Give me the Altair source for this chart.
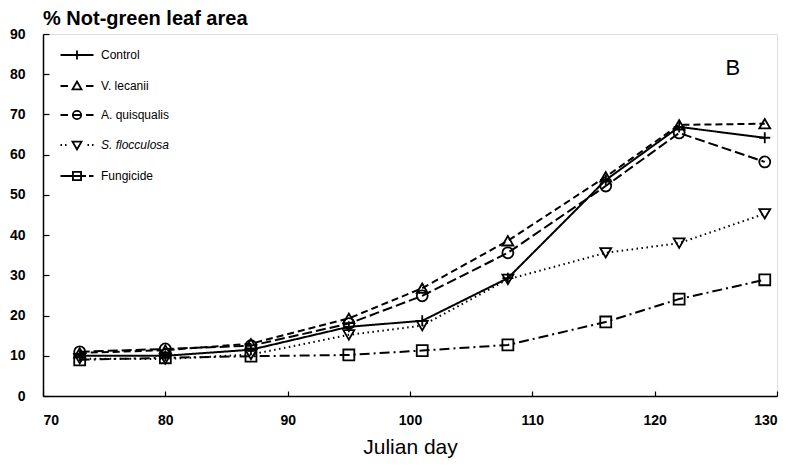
import altair as alt
import pandas as pd

days = [73, 80, 87, 95, 101, 108, 116, 122, 129]
series_names = ["Control", "V. lecanii", "A. quisqualis", "S. flocculosa", "Fungicide"]
control = [10, 10, 11.5, 17.2, 18.7, 29.3, 53.7, 66.9, 64.2]
lecanii = [10.7, 11.4, 13, 19.3, 26.8, 38.6, 54.5, 67.4, 67.7]
quisqualis = [11, 11.7, 12.5, 18, 24.9, 35.6, 52.2, 65.4, 58.2]
flocculosa = [9.3, 9.2, 10.3, 15.2, 17.5, 29, 35.6, 38, 45.3]
fungicide = [9, 9.5, 9.9, 10.2, 11.3, 12.7, 18.4, 24.1, 28.9]
x_ticks = [70, 80, 90, 100, 110, 120, 130]
y_ticks = [0, 10, 20, 30, 40, 50, 60, 70, 80, 90]
panel_label = ["B"]
panel_label_x = [126.4]
panel_label_y = [81.5]

values = [control, lecanii, quisqualis, flocculosa, fungicide]
rows = []
for name, vals in zip(series_names, values):
    for d, v in zip(days, vals):
        rows.append({"day": d, "value": v, "series": name})
df = pd.DataFrame(rows)
lab = pd.DataFrame({"x": panel_label_x, "y": panel_label_y, "t": panel_label})

FONT = "Liberation Sans"
xs = alt.Scale(domain=[70, 130], nice=False)
ys = alt.Scale(domain=[0, 90], nice=False)

dash_range = [[1, 0], [7, 4], [10, 4], [1.5, 3.5], [10, 4, 2, 4]]
width_range = [2, 2, 2, 1.6, 2]
marker_shapes = ["M-1,0H1M0,-1V1", "triangle-up", "circle", "triangle-down", "square"]
legend_shapes = [
    "M-1.1,0H1.1M0,-0.3V0.3",
    "M-1.1,0H-0.6M0.6,0H1.1M0,-0.3L0.3,0.22H-0.3Z",
    "M-1.1,0H-0.6M0.6,0H1.1M0.28,0A0.28,0.28 0 1,1 -0.28,0A0.28,0.28 0 1,1 0.28,0M-0.28,0H0.28",
    "M-1.1,0H-1.0M-0.8,0H-0.7M0.7,0H0.8M1.0,0H1.1M-0.3,-0.22H0.3L0,0.3Z",
    "M-1.1,0H-0.3M0.3,0H0.6M0.8,0H1.1M-0.27,-0.27H0.27V0.27H-0.27ZM-0.27,0H0.27",
]

main_x = alt.Axis(values=x_ticks, title="Julian day", titleFont=FONT, titleFontSize=21,
                  titleFontWeight="normal", titleColor="black", titlePadding=9,
                  labelFont=FONT, labelFontSize=14, labelFontWeight="bold", labelColor="black",
                  labelPadding=17, ticks=False, grid=False, domainColor="black",
                  domainWidth=1.5, orient="bottom")
main_y = alt.Axis(values=y_ticks, title=None, labelFont=FONT, labelFontSize=14,
                  labelFontWeight="bold", labelColor="black", labelPadding=18,
                  ticks=False, grid=False, domainColor="black", domainWidth=1.5, orient="left")
tick_x = alt.Axis(values=x_ticks, title=None, labels=False, domain=False, grid=False,
                  ticks=True, tickSize=5, tickColor="black", tickWidth=1.2, offset=-5,
                  orient="bottom")
tick_y = alt.Axis(values=y_ticks, title=None, labels=False, domain=False, grid=False,
                  ticks=True, tickSize=6, tickColor="black", tickWidth=1.2, offset=-6,
                  orient="left")

lines = alt.Chart(df).mark_line(color="black").encode(
    x=alt.X("day:Q", scale=xs, axis=main_x),
    y=alt.Y("value:Q", scale=ys, axis=main_y),
    strokeDash=alt.StrokeDash("series:N", scale=alt.Scale(domain=series_names, range=dash_range), legend=None),
    strokeWidth=alt.StrokeWidth("series:N", scale=alt.Scale(domain=series_names, range=width_range), legend=None),
)

points = alt.Chart(df).mark_point(filled=False, color="black", strokeWidth=1.8, size=120, opacity=1).encode(
    x=alt.X("day:Q", scale=xs, axis=None),
    y=alt.Y("value:Q", scale=ys, axis=None),
    shape=alt.Shape("series:N", scale=alt.Scale(domain=series_names, range=marker_shapes), legend=None),
)

legend_layer = alt.Chart(df).mark_point(filled=False, color="black", opacity=0).encode(
    x=alt.X("day:Q", scale=xs, axis=tick_x),
    y=alt.Y("value:Q", scale=ys, axis=tick_y),
    shape=alt.Shape(
        "series:N",
        scale=alt.Scale(domain=series_names, range=legend_shapes),
        legend=alt.Legend(
            title=None, orient="none", legendX=18, legendY=5, padding=0,
            symbolSize=900, symbolStrokeColor="black", symbolStrokeWidth=1.8,
            symbolFillColor="transparent", symbolOpacity=1, rowPadding=6,
            labelFont=FONT, labelFontSize=12, labelColor="black", labelOffset=8,
            labelFontStyle=alt.ExprRef("datum.label == 'S. flocculosa' ? 'italic' : 'normal'"),
        ),
    ),
)

text = alt.Chart(lab).mark_text(font=FONT, fontSize=22, color="black", align="center", baseline="middle").encode(
    x=alt.X("x:Q", scale=xs, axis=None),
    y=alt.Y("y:Q", scale=ys, axis=None),
    text="t:N",
)

chart = alt.layer(lines, points, legend_layer, text).resolve_scale(
    shape="independent"
).resolve_axis(x="independent", y="independent").properties(
    width=734, height=362,
    autosize=alt.AutoSizeParams(type="none"),
    padding={"left": 43, "top": 34, "right": 17, "bottom": 70},
    title=alt.TitleParams("% Not-green leaf area", anchor="start", frame="group",
                          font=FONT, fontSize=20, fontWeight="bold", color="black", offset=-2),
).configure_view(stroke="black", strokeWidth=1.5).configure(background="white")

chart.save("out.html", embed_options={"renderer": "svg", "actions": False})
